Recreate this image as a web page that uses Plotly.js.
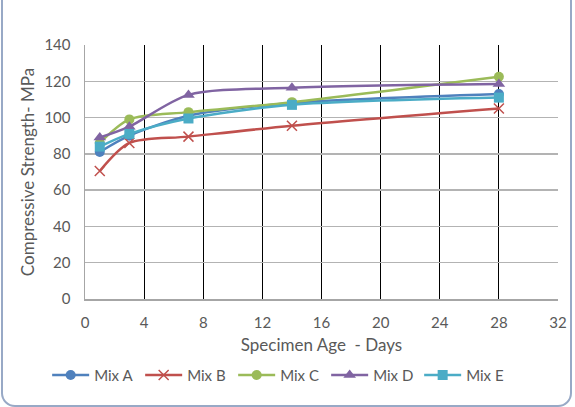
<!DOCTYPE html>
<html><head><meta charset="utf-8">
<script src="https://cdn.plot.ly/plotly-3.0.1.min.js"></script>
<style>
html,body{margin:0;padding:0;background:#fff;}
#wrap{position:relative;width:575px;height:407px;overflow:hidden;}
#chart{width:575px;height:407px;}
#frame{position:absolute;left:1px;top:-20px;width:567px;height:423px;border:2px solid #98a9c6;border-radius:14px;pointer-events:none;}
</style></head>
<body>
<div id="wrap"><div id="chart"></div><div id="frame"></div></div>
<script>
const days = [1, 3, 7, 14, 28];
const mixA = [81, 90, 101, 108, 113];
const mixB = [70.5, 86, 89.5, 95.5, 105];
const mixC = [86, 99, 103, 108.5, 122.5];
const mixD = [89, 95, 112.5, 116.5, 118.5];
const mixE = [84, 91, 99.5, 107, 111];
const seriesNames = ['Mix A','Mix B','Mix C','Mix D','Mix E'];
const xTicks = [0,4,8,12,16,20,24,28,32];
const yTicks = [0,20,40,60,80,100,120,140];

const colors = ['#4F81BD','#C0504D','#9BBB59','#8064A2','#4BACC6'];
const symbols = ['circle','x-thin-open','circle','triangle-up','square'];
const sizes = [10,10,10,11,10];
const vals = [mixA,mixB,mixC,mixD,mixE];
const traces = vals.map((v,i)=>({
  x: days, y: v, name: seriesNames[i], type:'scatter', mode:'lines+markers',
  line:{color:colors[i], width:2.5, shape:'spline', smoothing:0.8},
  marker:{color:colors[i], symbol:symbols[i], size:sizes[i], line:{color:colors[i], width: i===1?1.5:0}}
}));
const fam = 'Lato, "Open Sans", sans-serif';
const layout = {
  width:575, height:407,
  margin:{l:85, r:17, t:45, b:108},
  paper_bgcolor:'rgba(0,0,0,0)', plot_bgcolor:'#fff',
  font: {family:fam, color:'#595959', size:15},
  showlegend:true,
  legend:{orientation:'h', x:-0.08, xanchor:'left', y:-0.3, yanchor:'middle', font:{family:fam, size:15, color:'#595959'},
    itemwidth:37, entrywidth:41, entrywidthmode:'pixels', tracegroupgap:0},
  xaxis:{range:[0,32], tickvals:xTicks, ticktext:xTicks.map(String), showgrid:true, gridcolor:'#000', gridwidth:1.2,
    zeroline:false, showline:true, linecolor:'#a6a6a6', linewidth:1.5, ticks:'', ticklabelstandoff:9, tickfont:{size:15,color:'#595959'},
    title:{text:'Specimen Age  - Days', font:{size:17,color:'#595959'}, standoff:9}, fixedrange:true},
  yaxis:{range:[0,140], tickvals:yTicks, ticktext:yTicks.map(String), showgrid:true, gridcolor:'#b3b3b3', gridwidth:1.5,
    zeroline:false, showline:true, linecolor:'#a6a6a6', linewidth:1.5, ticks:'', ticklabelstandoff:10, tickfont:{size:15,color:'#595959'},
    title:{text:'Compressive Strength- MPa', font:{size:17,color:'#595959'}, standoff:5}, fixedrange:true}
};
Plotly.newPlot('chart', traces, layout, {displayModeBar:false, staticPlot:true});
</script>
</body></html>
